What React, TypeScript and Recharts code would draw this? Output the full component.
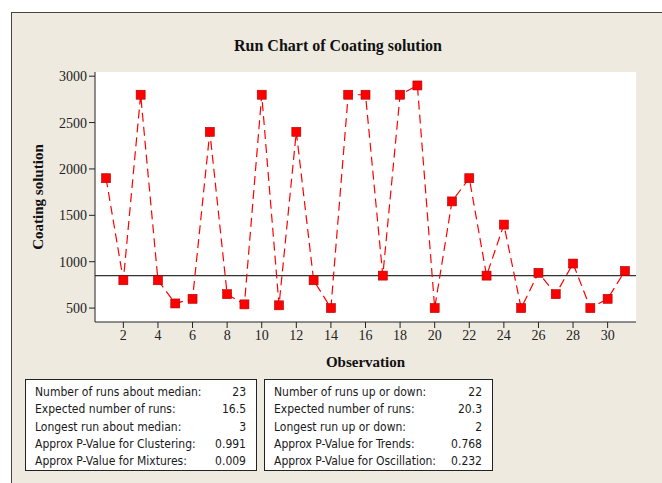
import React from 'react'
import {
  LineChart, Line, XAxis, YAxis, CartesianGrid, ReferenceLine, ReferenceArea,
} from 'recharts'

const observations = [
  1, 2, 3, 4, 5, 6, 7, 8, 9, 10, 11, 12, 13, 14, 15, 16,
  17, 18, 19, 20, 21, 22, 23, 24, 25, 26, 27, 28, 29, 30, 31,
]
const coating = [
  1900, 800, 2800, 800, 550, 600, 2400, 650, 540, 2800, 530, 2400, 800, 500, 2800, 2800,
  850, 2800, 2900, 500, 1650, 1900, 850, 1400, 500, 880, 650, 980, 500, 600, 900,
]
const xTicks = [2, 4, 6, 8, 10, 12, 14, 16, 18, 20, 22, 24, 26, 28, 30]
const yTicks = [500, 1000, 1500, 2000, 2500, 3000]

const medianLabels = [
  'Number of runs about median:',
  'Expected number of runs:',
  'Longest run about median:',
  'Approx P-Value for Clustering:',
  'Approx P-Value for Mixtures:',
]
const medianValues = ['23', '16.5', '3', '0.991', '0.009']
const upDownLabels = [
  'Number of runs up or down:',
  'Expected number of runs:',
  'Longest run up or down:',
  'Approx P-Value for Trends:',
  'Approx P-Value for Oscillation:',
]
const upDownValues = ['22', '20.3', '2', '0.768', '0.232']

const data = observations.map((obs, i) => ({ obs, value: coating[i] }))

const sorted = [...coating].sort((a, b) => a - b)
const median = sorted[Math.floor(sorted.length / 2)]

const serif = '"Liberation Serif", "Times New Roman", serif'
const sans = '"DejaVu Sans Condensed", "Liberation Sans Narrow", sans-serif'

const SquareDot = (props: any) => {
  const { cx, cy, index } = props
  if (cx == null || cy == null) return null
  return (
    <rect key={index} x={cx - 4.5} y={cy - 4.5} width={9} height={9}
      fill="#ff0000" stroke="#b00000" strokeWidth={0.6} />
  )
}

function StatsBox({ left, width, labels, values }: { left: number; width: number; labels: string[]; values: string[] }) {
  return (
    <div style={{
      position: 'absolute', left, top: 379, width, height: 92, boxSizing: 'border-box',
      border: '1.5px solid #222', background: '#fff', padding: '4px 10px 0 9px',
      fontFamily: sans, fontSize: 12, color: '#1a1a1a',
    }}>
      {labels.map((l, i) => (
        <div key={l} style={{ display: 'flex', justifyContent: 'space-between', height: 17.3, lineHeight: '17.3px' }}>
          <span>{l}</span>
          <span>{values[i]}</span>
        </div>
      ))}
    </div>
  )
}

export default function App() {
  return (
    <div style={{ position: 'absolute', left: 0, top: 0, width: 662, height: 483, background: '#fff', overflow: 'hidden' }}>
      <div style={{
        position: 'absolute', left: 11, top: 12, width: 700, height: 520,
        background: '#eeeae0', border: '1.5px solid #444',
      }} />
      <div style={{
        position: 'absolute', left: 0, top: 37, width: 676, textAlign: 'center',
        fontFamily: serif, fontWeight: 'bold', fontSize: 16, color: '#111',
      }}>
        Run Chart of Coating solution
      </div>
      <div style={{ position: 'absolute', left: 0, top: 0 }}>
        <LineChart width={662} height={400} data={data}
          margin={{ top: 72, right: 26, bottom: 48, left: 35 }}>
          <CartesianGrid horizontal={false} vertical={false} fill="#fff" />
          <XAxis dataKey="obs" type="number" domain={[0.36, 31.64]} ticks={xTicks}
            allowDataOverflow height={30} tickSize={6} tickMargin={2}
            stroke="#222" tick={{ fontFamily: serif, fontSize: 14, fill: '#222' }}
            label={{ value: 'Observation', position: 'insideBottom', offset: -15,
              style: { fontFamily: serif, fontWeight: 'bold', fontSize: 15, fill: '#111' } }} />
          <YAxis type="number" domain={[350, 3045]} ticks={yTicks} allowDataOverflow
            width={60} tickSize={6} tickMargin={2} stroke="#222"
            tick={{ fontFamily: serif, fontSize: 14, fill: '#222' }}
            label={{ value: 'Coating solution', angle: -90, position: 'insideLeft', offset: 3,
              style: { fontFamily: serif, fontWeight: 'bold', fontSize: 15, fill: '#111', textAnchor: 'middle' } }} />
          <ReferenceArea fill="none" stroke="#222" strokeWidth={1.2} ifOverflow="visible" />
          <ReferenceLine y={median} stroke="#333" strokeWidth={1.2} />
          <Line dataKey="value" stroke="#ff0000" strokeWidth={1.2} strokeDasharray="9 5"
            dot={SquareDot} activeDot={false} isAnimationActive={false} />
        </LineChart>
      </div>
      <StatsBox left={25} width={232} labels={medianLabels} values={medianValues} />
      <StatsBox left={264} width={229} labels={upDownLabels} values={upDownValues} />
    </div>
  )
}
